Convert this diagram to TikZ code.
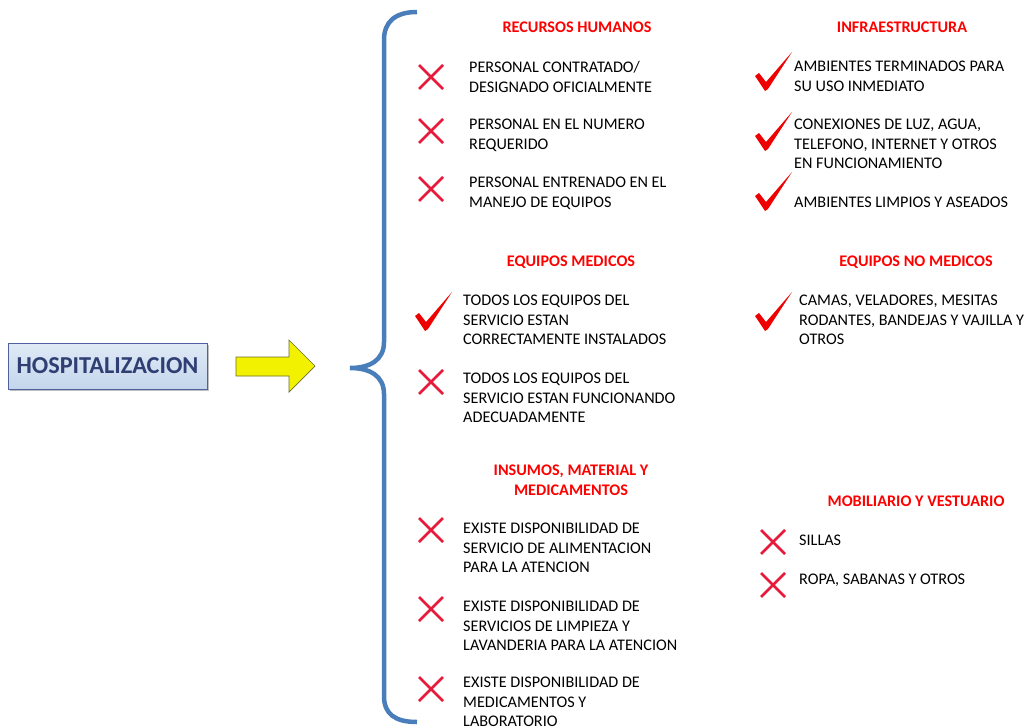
\documentclass[tikz,border=0pt]{standalone}
\usepackage{fontspec}
\setmainfont{Carlito}
\usetikzlibrary{shadows}

\definecolor{bracecol}{RGB}{74,126,187}
\definecolor{headred}{RGB}{255,0,0}
\definecolor{crossred}{RGB}{232,26,60}
\definecolor{tickred}{RGB}{238,0,0}
\definecolor{boxtop}{RGB}{224,234,246}
\definecolor{boxbot}{RGB}{196,214,236}
\definecolor{boxline}{RGB}{79,98,160}
\definecolor{titleblue}{RGB}{47,62,115}
\definecolor{arrowfill}{RGB}{242,242,0}
\definecolor{arrowline}{RGB}{110,110,40}

\begin{document}
\begin{tikzpicture}[
  x=1pt, y=-1pt,
  head/.style={font=\bfseries\fontsize{16.2}{19.5}\selectfont, text=headred,
    align=center, inner sep=0pt},
  item/.style={anchor=north west, align=left, inner sep=0pt,
    font=\fontsize{16.2}{19.6}\selectfont},
  cross/.pic={\draw[crossred, line width=2.6pt] (-12,-12) -- (12,12) (-12,12) -- (12,-12);},
  tick/.pic={\fill[tickred] (0,1) -- (-10,-14) -- (-6,-17) -- (1,-8) -- (27,-38) -- (3,-1) -- cycle;},
]
  \useasboundingbox (0,0) rectangle (1028,728);

  % Title box
  \node[draw=boxline, top color=boxtop, bottom color=boxbot, drop shadow,
        minimum width=199pt, minimum height=46pt, inner sep=0pt,
        font=\bfseries\fontsize{24.3}{27}\selectfont, text=titleblue]
    (hosp) at (107.5,366) {HOSPITALIZACION};

  % Arrow
  \draw[fill=arrowfill, draw=arrowline, line width=0.7pt]
    (236,357) -- (289,357) -- (289,340) -- (315,366) -- (289,392)
    -- (289,376) -- (236,376) -- cycle;

  % Brace
  \draw[bracecol, line width=4.5pt]
    (417,12) .. controls (395,12) and (384,22) .. (384,40) -- (384,342)
    .. controls (384,360) and (370,368) .. (350,368)
    .. controls (370,368) and (384,376) .. (384,394) -- (384,696)
    .. controls (384,714) and (395,722) .. (417,722);

  % Headings
  \node[head] (hrh)  at (577,27)  {RECURSOS HUMANOS};
  \node[head] (hinf) at (902,27)  {INFRAESTRUCTURA};
  \node[head] (hem)  at (571,262) {EQUIPOS MEDICOS};
  \node[head] (henm) at (916,262) {EQUIPOS NO MEDICOS};
  \node[head] (hins) at (571,480) {INSUMOS, MATERIAL Y\\MEDICAMENTOS};
  \node[head] (hmob) at (916,501) {MOBILIARIO Y VESTUARIO};

  % Recursos humanos
  \pic at (431,77)  {cross};
  \pic at (431,131) {cross};
  \pic at (431,189) {cross};
  \node[item] (rh1) at (469,61)  {PERSONAL CONTRATADO/\\DESIGNADO OFICIALMENTE};
  \node[item] (rh2) at (469,119) {PERSONAL EN EL NUMERO\\REQUERIDO};
  \node[item] (rh3) at (469,177) {PERSONAL ENTRENADO EN EL\\MANEJO DE EQUIPOS};

  % Infraestructura
  \pic at (765,90)  {tick};
  \pic at (765,150) {tick};
  \pic at (765,210) {tick};
  \node[item] (inf1) at (794,61)  {AMBIENTES TERMINADOS PARA\\SU USO INMEDIATO};
  \node[item] (inf2) at (794,119) {CONEXIONES DE LUZ, AGUA,\\TELEFONO, INTERNET Y OTROS\\EN FUNCIONAMIENTO};
  \node[item] (inf3) at (794,197) {AMBIENTES LIMPIOS Y ASEADOS};

  % Equipos medicos
  \pic at (425,330) {tick};
  \pic at (431,382) {cross};
  \node[item] (em1) at (463,295) {TODOS LOS EQUIPOS DEL\\SERVICIO ESTAN\\CORRECTAMENTE INSTALADOS};
  \node[item] (em2) at (463,373) {TODOS LOS EQUIPOS DEL\\SERVICIO ESTAN FUNCIONANDO\\ADECUADAMENTE};

  % Equipos no medicos
  \pic at (765,330) {tick};
  \node[item] (enm1) at (799,295) {CAMAS, VELADORES, MESITAS\\RODANTES, BANDEJAS Y VAJILLA Y\\OTROS};

  % Insumos
  \pic at (431,530) {cross};
  \pic at (431,609) {cross};
  \pic at (431,689) {cross};
  \node[item] (ins1) at (463,523) {EXISTE DISPONIBILIDAD DE\\SERVICIO DE ALIMENTACION\\PARA LA ATENCION};
  \node[item] (ins2) at (463,601) {EXISTE DISPONIBILIDAD DE\\SERVICIOS DE LIMPIEZA Y\\LAVANDERIA PARA LA ATENCION};
  \node[item] (ins3) at (463,677) {EXISTE DISPONIBILIDAD DE\\MEDICAMENTOS Y\\LABORATORIO};

  % Mobiliario
  \pic at (773,542) {cross};
  \pic at (773,585) {cross};
  \node[item] (mob1) at (799,535) {SILLAS};
  \node[item] (mob2) at (799,574) {ROPA, SABANAS Y OTROS};

\end{tikzpicture}
\end{document}
